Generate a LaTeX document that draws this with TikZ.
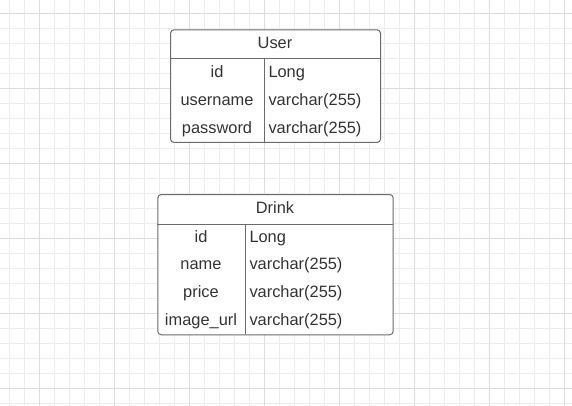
\documentclass[tikz,border=0pt]{standalone}
\usepackage{fontspec}
\setmainfont{Liberation Sans}
\definecolor{gridminor}{HTML}{EDEDED}
\definecolor{gridmajor}{HTML}{DCDCDC}
\definecolor{edgecol}{HTML}{6B6B6B}
\definecolor{txtcol}{HTML}{333333}
\begin{document}
\begin{tikzpicture}[x=1pt,y=-1pt,
  tablebox/.style={draw=edgecol, line width=1pt, rounded corners=3.5pt, inner sep=0pt, fill=white},
  sepline/.style={draw=edgecol, line width=1pt},
  cell/.style={inner sep=0pt, text=txtcol, font=\fontsize{16.4}{19}\selectfont},
  minorline/.style={draw=gridminor, line width=1pt},
  majorline/.style={draw=gridmajor, line width=1pt}]
\fill[white] (0,0) rectangle (572,406);
\useasboundingbox (0,0) rectangle (572,406);
% grid
\foreach \x in {9.3,24.3,...,571} \draw[minorline] (\x,0) -- (\x,406);
\foreach \y in {13.3,28.3,...,405} \draw[minorline] (0,\y) -- (572,\y);
\foreach \x in {39.3,114.3,...,571} \draw[majorline] (\x,0) -- (\x,406);
\foreach \y in {13.3,88.3,...,405} \draw[majorline] (0,\y) -- (572,\y);
% User table
\node[tablebox, minimum width=210pt, minimum height=112.7pt, anchor=north west] (user) at (170,29.3) {};
\coordinate (uhl) at (170,59); \coordinate (uhr) at (380,59);
\coordinate (uvt) at (264,59); \coordinate (uvb) at (264,142);
\draw[sepline] (uhl) -- (uhr);
\draw[sepline] (uvt) -- (uvb);
\node[cell, anchor=base] (utitle) at (275,48.3) {User};
\node[cell, anchor=base] (uid) at (217,77.3) {id};
\node[cell, anchor=base] (uname) at (217,105.3) {username};
\node[cell, anchor=base] (upass) at (217,133.3) {password};
\node[cell, anchor=base west] (uidt) at (268.3,77.3) {Long};
\node[cell, anchor=base west] (unamet) at (268.3,105.3) {varchar(255)};
\node[cell, anchor=base west] (upasst) at (268.3,133.3) {varchar(255)};
% Drink table
\node[tablebox, minimum width=235.4pt, minimum height=140.3pt, anchor=north west] (drink) at (157.3,194) {};
\coordinate (dhl) at (157.3,224); \coordinate (dhr) at (392.7,224);
\coordinate (dvt) at (245,224); \coordinate (dvb) at (245,334.3);
\draw[sepline] (dhl) -- (dhr);
\draw[sepline] (dvt) -- (dvb);
\node[cell, anchor=base] (dtitle) at (275,213.3) {Drink};
\node[cell, anchor=base] (did) at (201,242.2) {id};
\node[cell, anchor=base] (dname) at (201,269.9) {name};
\node[cell, anchor=base] (dprice) at (201,297.6) {price};
\node[cell, anchor=base] (dimg) at (201,325.3) {image\_url};
\node[cell, anchor=base west] (didt) at (249.3,242.2) {Long};
\node[cell, anchor=base west] (dnamet) at (249.3,269.9) {varchar(255)};
\node[cell, anchor=base west] (dpricet) at (249.3,297.6) {varchar(255)};
\node[cell, anchor=base west] (dimgt) at (249.3,325.3) {varchar(255)};
\end{tikzpicture}
\end{document}
